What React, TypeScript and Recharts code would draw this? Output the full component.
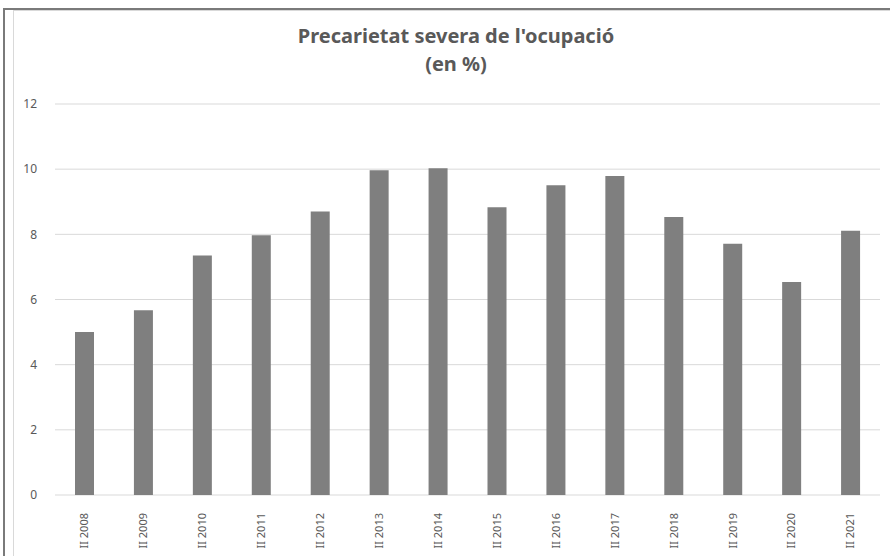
import { Bar, BarChart, CartesianGrid, XAxis, YAxis } from "recharts"

const categories = [
  "II 2008", "II 2009", "II 2010", "II 2011", "II 2012", "II 2013", "II 2014",
  "II 2015", "II 2016", "II 2017", "II 2018", "II 2019", "II 2020", "II 2021",
]
const values = [5.0, 5.67, 7.35, 7.97, 8.7, 9.97, 10.03, 8.83, 9.51, 9.79, 8.53, 7.71, 6.54, 8.11]
const yTicks = [0, 2, 4, 6, 8, 10, 12]

const data = categories.map((name, i) => ({ name, value: values[i] }))

const FONT = "Noto Sans, Open Sans, sans-serif"
const TEXT = "#595959"

const renderXTick = (props: any) => {
  const { x, y, payload } = props
  return (
    <g transform={`translate(${x},${y + 10})`}>
      <text
        transform="rotate(-90)"
        textAnchor="end"
        dy="0.35em"
        fill={TEXT}
        fontSize={11}
        fontFamily={FONT}
        style={{ fontFamily: FONT }}
      >
        {payload.value}
      </text>
    </g>
  )
}

export default function App() {
  return (
    <div style={{ position: "fixed", left: 0, top: 0, width: 890, height: 556, background: "#fff", overflow: "hidden", fontFamily: FONT }}>
      {/* outer dark frame */}
      <div style={{ position: "absolute", left: 3, top: 8, width: 900, height: 600, borderTop: "2px solid #7a7a7a", borderLeft: "2px solid #7a7a7a" }} />
      {/* chart area frame */}
      <div style={{ position: "absolute", left: 13, top: 10, width: 900, height: 600, borderTop: "1px solid #d9d9d9", borderLeft: "1px solid #d9d9d9" }} />
      <div
        style={{
          position: "absolute",
          left: 0,
          top: 22,
          width: 912,
          textAlign: "center",
          fontWeight: "bold",
          fontSize: 20,
          lineHeight: "28px",
          color: TEXT,
        }}
      >
        Precarietat severa de l'ocupació
        <br />
        (en %)
      </div>
      <div style={{ position: "absolute", left: 0, top: 0 }}>
        <BarChart width={890} height={556} data={data} margin={{ top: 104, right: 10, bottom: 0, left: 0 }}>
          <CartesianGrid vertical={false} stroke="#d9d9d9" />
          <XAxis
            dataKey="name"
            axisLine={false}
            tickLine={false}
            interval={0}
            height={61}
            tick={renderXTick}
          />
          <YAxis
            domain={[0, 12]}
            ticks={yTicks}
            axisLine={false}
            tickLine={false}
            width={55}
            tickMargin={12}
            tick={{ fill: TEXT, fontSize: 12, fontFamily: FONT }}
          />
          <Bar dataKey="value" fill="#7f7f7f" barSize={19} isAnimationActive={false} />
        </BarChart>
      </div>
    </div>
  )
}
